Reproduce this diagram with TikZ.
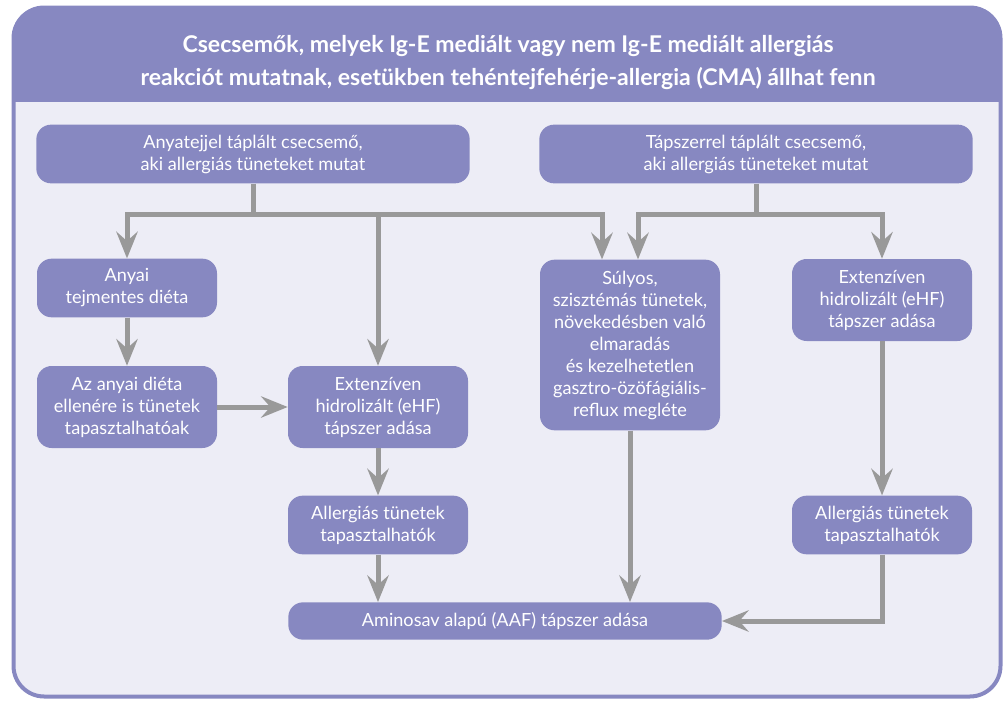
\documentclass[tikz,border=0pt]{standalone}
\usepackage{fontspec}
\setmainfont{Lato}
\usetikzlibrary{arrows.meta}
\definecolor{boxpurple}{HTML}{8788C1}
\definecolor{lightbg}{HTML}{EDEDF6}
\definecolor{arrowgray}{HTML}{999999}
\tikzset{
  box/.style={fill=boxpurple, text=white, rounded corners=11pt, align=center,
    inner sep=0pt, font=\fontsize{13.6}{16.5}\selectfont},
  small/.style={box, minimum width=135pt},
  wide/.style={box, minimum width=325pt},
  title/.style={text=white, align=center, font=\bfseries\fontsize{17.3}{24.75}\selectfont},
  link/.style={draw=arrowgray, line width=3.75pt},
  arr/.style={link, -{Stealth[length=20pt,width=16pt,inset=7pt]}}
}
\begin{document}
\begin{tikzpicture}[x=0.75pt,y=-0.75pt]
  \useasboundingbox (0,0) rectangle (1003,700);
  % frame and title band
  \begin{scope}
    \clip[rounded corners=24pt] (12,6) rectangle (1002,698);
    \fill[lightbg] (12,6) rectangle (1002,698);
    \fill[boxpurple] (12,6) rectangle (1002,102);
  \end{scope}
  \draw[boxpurple, line width=3pt, rounded corners=23pt] (13.5,7.5) rectangle (1000.5,696.5);
  \node[title] (ttl) at (508,63) {Csecsemők, melyek Ig-E mediált vagy nem Ig-E mediált allergiás\\
    reakciót mutatnak, esetükben tehéntejfehérje-allergia (CMA) állhat fenn};

  % boxes
  \node[wide, minimum height=44pt] (breast) at (253,154) {Anyatejjel táplált csecsemő,\\aki allergiás tüneteket mutat};
  \node[wide, minimum height=44pt] (formula) at (756,154) {Tápszerrel táplált csecsemő,\\aki allergiás tüneteket mutat};
  \node[small, minimum height=44pt] (diet) at (127,288) {Anyai\\tejmentes diéta};
  \node[small, minimum height=61.5pt] (despite) at (127,407) {Az anyai diéta\\ellenére is tünetek\\tapasztalhatóak};
  \node[small, minimum height=61.5pt] (ehfl) at (378,407) {Extenzíven\\hidrolizált (eHF)\\tápszer adása};
  \node[small, minimum height=44pt] (allergl) at (378,525) {Allergiás tünetek\\tapasztalhatók};
  \node[wide, minimum height=28pt] (aaf) at (505,621) {Aminosav alapú (AAF) tápszer adása};
  \node[small, minimum height=128pt] (severe) at (630,345) {Súlyos,\\szisztémás tünetek,\\növekedésben való\\elmaradás\\és kezelhetetlen\\gasztro-özöfágiális-\\reflux megléte};
  \node[small, minimum height=61.5pt] (ehfr) at (882,300) {Extenzíven\\hidrolizált (eHF)\\tápszer adása};
  \node[small, minimum height=44pt] (allergr) at (882,525) {Allergiás tünetek\\tapasztalhatók};

  % connectors
  \coordinate (jl) at (253,214);
  \coordinate (jr) at (756,214);
  \draw[link] (breast.south) -- (jl);
  \draw[link] (formula.south) -- (jr);
  \draw[arr] (jl) -| (diet.north);
  \draw[arr] (jl) -| (ehfl.north);
  \draw[arr] (jl) -| ([xshift=-21pt]severe.north);
  \draw[arr] (jr) -| ([xshift=6pt]severe.north);
  \draw[arr] (jr) -| (ehfr.north);
  \draw[arr] (diet) -- (despite);
  \draw[arr] (despite) -- (ehfl);
  \draw[arr] (ehfl) -- (allergl);
  \draw[arr] (allergl) -- (allergl |- aaf.north);
  \draw[arr] (severe) -- (severe |- aaf.north);
  \draw[arr] (ehfr) -- (allergr);
  \draw[arr] (allergr.south) |- (aaf.east);
\end{tikzpicture}
\end{document}
